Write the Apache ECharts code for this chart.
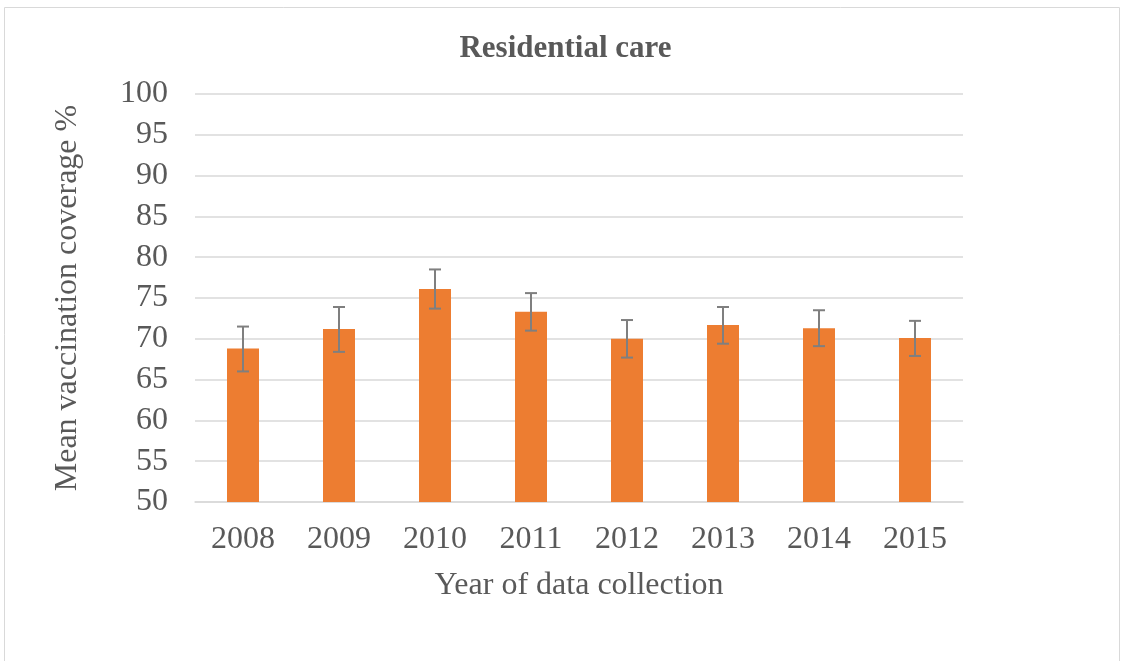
<!DOCTYPE html>
<html><head><meta charset="utf-8">
<script src="https://cdn.jsdelivr.net/npm/echarts@6/dist/echarts.min.js"></script>
<style>html,body{margin:0;padding:0;background:#fff}#c{width:1131px;height:661px}</style>
</head><body><div id="c"></div>
<script>
const categories = ['2008','2009','2010','2011','2012','2013','2014','2015'];
const means = [68.8, 71.2, 76.1, 73.3, 70.0, 71.7, 71.3, 70.1];
const errLow = [66.0, 68.4, 73.7, 71.0, 67.7, 69.4, 69.1, 67.9];
const errHigh = [71.5, 73.9, 78.5, 75.6, 72.3, 73.9, 73.5, 72.2];
const yTicks = [50, 55, 60, 65, 70, 75, 80, 85, 90, 95, 100];

const chart = echarts.init(document.getElementById('c'));
const font = '"Liberation Serif", "Times New Roman", serif';
chart.setOption({
  animation: false,
  graphic: [{type:'rect', shape:{x:4.5,y:7.5,width:1115,height:700}, style:{fill:'none', stroke:'#d9d9d9', lineWidth:1}}],
  title: {text:'Residential care', left:'center', top:28, textStyle:{fontFamily:font, fontSize:31, fontWeight:'bold', color:'#595959'}},
  grid: {left:195, right:168, top:94, bottom:159},
  xAxis: {type:'category', data:categories, name:'Year of data collection', nameLocation:'middle', nameGap:68,
    nameTextStyle:{fontFamily:font, fontSize:32, color:'#595959'},
    axisLine:{lineStyle:{color:'#d9d9d9', width:1.5}}, axisTick:{show:false},
    axisLabel:{fontFamily:font, fontSize:32, color:'#595959', margin:22}},
  yAxis: {type:'value', min:yTicks[0], max:yTicks[yTicks.length-1], interval:5, name:'Mean vaccination coverage %', nameLocation:'middle', nameGap:111,
    nameTextStyle:{fontFamily:font, fontSize:32, color:'#595959'},
    axisLine:{show:false}, axisTick:{show:false},
    splitLine:{lineStyle:{color:'#d9d9d9', width:1.5}},
    axisLabel:{fontFamily:font, fontSize:32, color:'#595959', margin:27}},
  series: [
    {type:'bar', data:means, barWidth:32, itemStyle:{color:'#ed7d31'}},
    {type:'custom', data:categories.map((c,i)=>[i, errLow[i], errHigh[i]]), z:10,
      renderItem:function(params, api){
        const lo = api.coord([api.value(0), api.value(1)]);
        const hi = api.coord([api.value(0), api.value(2)]);
        const hw = 6;
        const st = {stroke:'#7f7f7f', lineWidth:2};
        return {type:'group', children:[
          {type:'line', shape:{x1:lo[0],y1:lo[1],x2:hi[0],y2:hi[1]}, style:st},
          {type:'line', shape:{x1:lo[0]-hw,y1:lo[1],x2:lo[0]+hw,y2:lo[1]}, style:st},
          {type:'line', shape:{x1:hi[0]-hw,y1:hi[1],x2:hi[0]+hw,y2:hi[1]}, style:st}
        ]};
      }}
  ]
});
</script></body></html>
